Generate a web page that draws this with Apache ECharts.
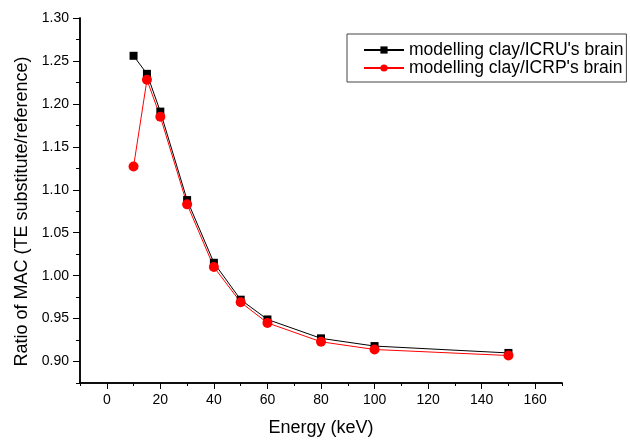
<!DOCTYPE html>
<html>
<head>
<meta charset="utf-8">
<script src="https://cdn.jsdelivr.net/npm/echarts@6/dist/echarts.min.js"></script>
<style>
  html, body { margin: 0; padding: 0; background: #fff; }
  #chart { width: 630px; height: 441px; }
</style>
</head>
<body>
<div id="chart"></div>
<script>
// Energy (keV) and MAC ratios
const energies = [10, 15, 20, 30, 40, 50, 60, 80, 100, 150]
const icruRatio = [1.256, 1.235, 1.191, 1.088, 1.015, 0.972, 0.949, 0.927, 0.918, 0.910]
const icrpRatio = [1.127, 1.228, 1.185, 1.083, 1.010, 0.969, 0.945, 0.923, 0.914, 0.907]

const xMajor = [0, 20, 40, 60, 80, 100, 120, 140, 160]
const xMinor = [-10, 10, 30, 50, 70, 90, 110, 130, 150, 170]
const yMajor = [0.90, 0.95, 1.00, 1.05, 1.10, 1.15, 1.20, 1.25, 1.30]
const yMinor = [0.875, 0.925, 0.975, 1.025, 1.075, 1.125, 1.175, 1.225, 1.275]

const font = 'Liberation Sans, Arial, sans-serif'
const toPairs = (ys) => energies.map((x, i) => [x, ys[i]])

const chart = echarts.init(document.getElementById('chart'), null, { renderer: 'canvas' })

const axisLine = { show: true, onZero: false, lineStyle: { color: '#000', width: 1.5 } }

chart.setOption({
  animation: false,
  grid: { left: 80, right: 68, top: 18, bottom: 58, outerBoundsMode: 'none', containLabel: false },
  legend: {
    orient: 'vertical',
    left: 347,
    top: 34,
    padding: [7, 3, 5, 16],
    itemGap: 0,
    itemWidth: 40,
    itemHeight: 9,
    borderColor: '#444',
    borderWidth: 1,
    textStyle: { fontFamily: font, fontSize: 17.5, color: '#000' },
    data: ["modelling clay/ICRU's brain", "modelling clay/ICRP's brain"]
  },
  xAxis: [
    {
      type: 'value', min: -10, max: 170,
      name: 'Energy (keV)', nameLocation: 'middle', nameGap: 36,
      nameTextStyle: { fontFamily: font, fontSize: 18, color: '#000' },
      axisLine,
      axisTick: { show: true, length: 6, customValues: xMajor, lineStyle: { color: '#000' } },
      axisLabel: { customValues: xMajor, margin: 10, fontFamily: font, fontSize: 14, color: '#000' },
      splitLine: { show: false }
    },
    {
      type: 'value', min: -10, max: 170, position: 'bottom',
      axisLine,
      axisTick: { show: true, length: 3, customValues: xMinor, lineStyle: { color: '#000' } },
      axisLabel: { show: false },
      splitLine: { show: false }
    }
  ],
  yAxis: [
    {
      type: 'value', min: 0.875, max: 1.30,
      name: 'Ratio of MAC (TE substitute/reference)', nameLocation: 'middle', nameGap: 49,
      nameTextStyle: { fontFamily: font, fontSize: 18, color: '#000', padding: [0, 22, 0, 0] },
      axisLine,
      axisTick: { show: true, length: 7, customValues: yMajor, lineStyle: { color: '#000' } },
      axisLabel: {
        customValues: yMajor, margin: 11, fontFamily: font, fontSize: 14, color: '#000',
        formatter: (v) => v.toFixed(2)
      },
      splitLine: { show: false }
    },
    {
      type: 'value', min: 0.875, max: 1.30, position: 'left',
      axisLine,
      axisTick: { show: true, length: 4, customValues: yMinor, lineStyle: { color: '#000' } },
      axisLabel: { show: false },
      splitLine: { show: false }
    }
  ],
  series: [
    {
      name: "modelling clay/ICRU's brain",
      type: 'line',
      data: toPairs(icruRatio),
      symbol: 'rect', symbolSize: 8,
      lineStyle: { color: '#000', width: 1 },
      itemStyle: { color: '#000' }
    },
    {
      name: "modelling clay/ICRP's brain",
      type: 'line',
      data: toPairs(icrpRatio),
      symbol: 'circle', symbolSize: 10,
      lineStyle: { color: '#ff0000', width: 1 },
      itemStyle: { color: '#ff0000' }
    }
  ]
})
</script>
</body>
</html>
